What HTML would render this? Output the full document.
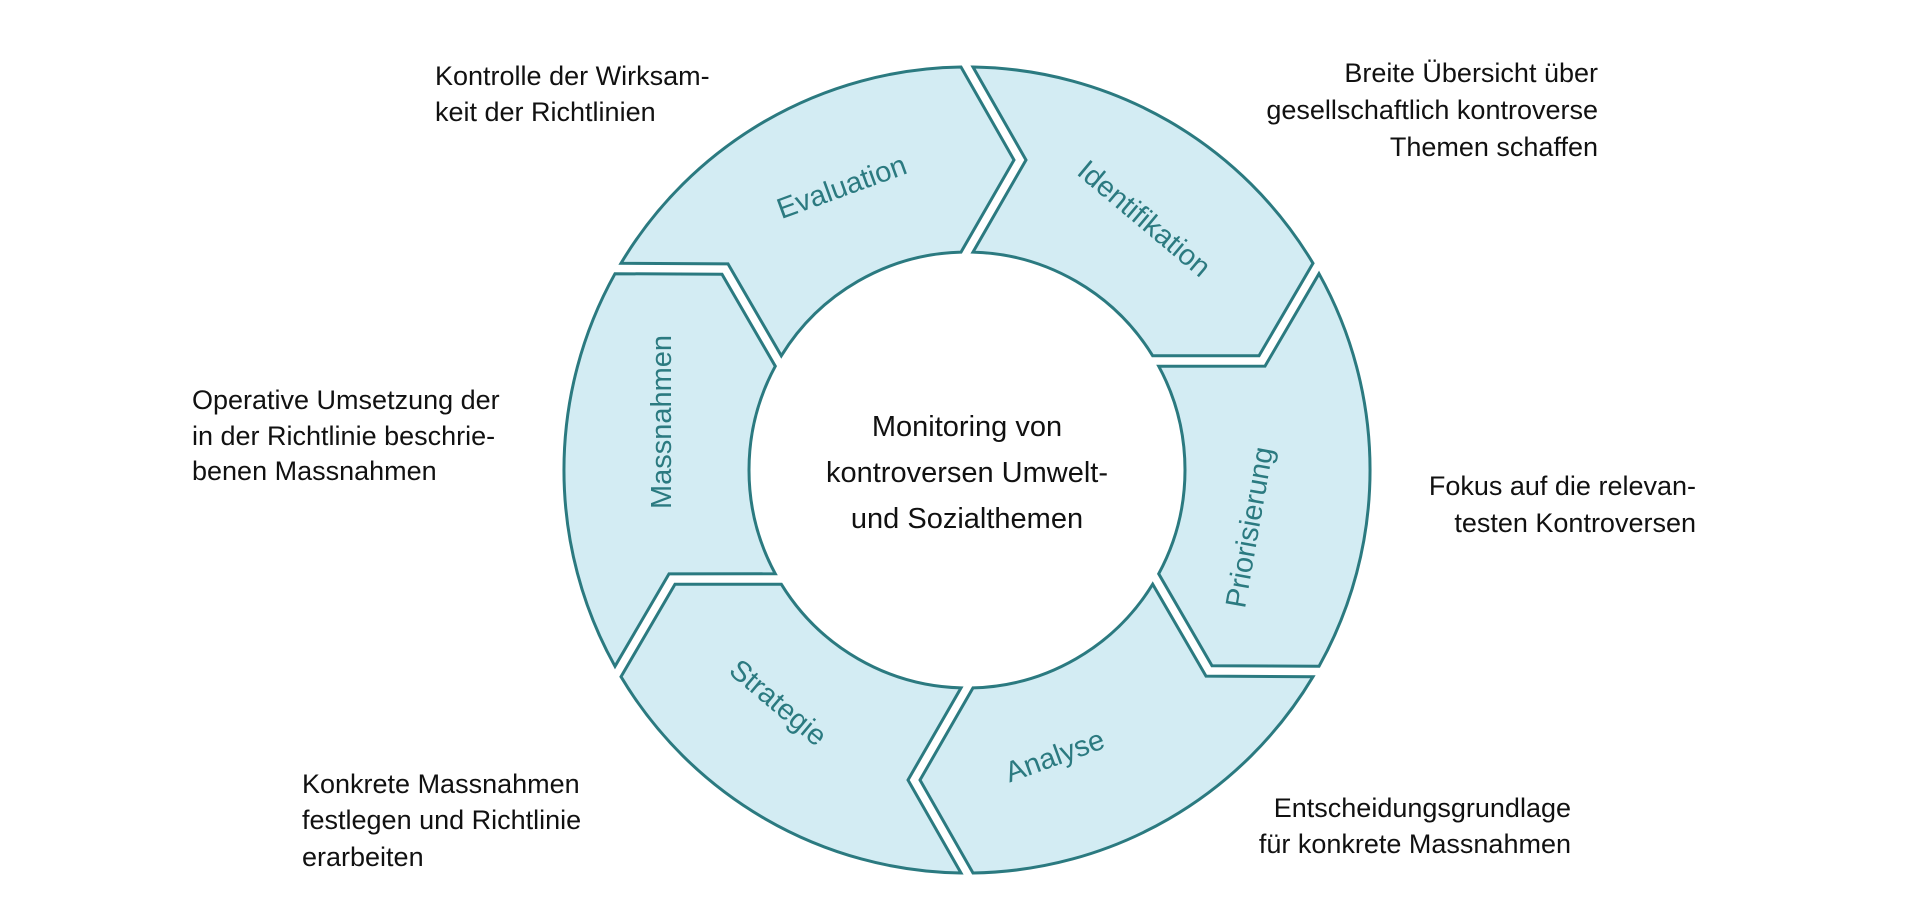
<!DOCTYPE html>
<html><head><meta charset="utf-8"><style>
html,body{margin:0;padding:0;background:#fff;}
svg{display:block;}
.t{font-family:"Liberation Sans",sans-serif;font-size:27px;fill:#111;}
.c{font-family:"Liberation Sans",sans-serif;font-size:29px;fill:#111;}
.l{font-family:"Liberation Sans",sans-serif;font-size:29px;fill:#2b7a80;}
</style></head><body>
<svg id="s" width="1920" height="905" viewBox="0 0 1920 905" xmlns="http://www.w3.org/2000/svg">
<g id="segs" fill="#d3ecf3" stroke="#2b7a80" stroke-width="3" stroke-linejoin="miter"></g>
<text class="l" text-anchor="middle" transform="translate(845,196) rotate(-20)">Evaluation</text>
<text class="l" text-anchor="middle" transform="translate(1138,226) rotate(40)">Identifikation</text>
<text class="l" text-anchor="middle" transform="translate(1259,529) rotate(-80)">Priorisierung</text>
<text class="l" text-anchor="middle" transform="translate(1058,765) rotate(-20)">Analyse</text>
<text class="l" text-anchor="middle" transform="translate(772,710) rotate(40)">Strategie</text>
<text class="l" text-anchor="middle" transform="translate(671,422) rotate(-90)">Massnahmen</text>
<g text-anchor="middle">
<text x="967" y="436" class="c">Monitoring von</text>
<text x="967" y="482" class="c">kontroversen Umwelt-</text>
<text x="967" y="528" class="c">und Sozialthemen</text>
</g>
<text class="t" x="435" y="85">Kontrolle der Wirksam-</text>
<text class="t" x="435" y="121">keit der Richtlinien</text>
<g text-anchor="end">
<text class="t" x="1598" y="82">Breite Übersicht über</text>
<text class="t" x="1598" y="119">gesellschaftlich kontroverse</text>
<text class="t" x="1598" y="156">Themen schaffen</text>
<text class="t" x="1696" y="495">Fokus auf die relevan-</text>
<text class="t" x="1696" y="532">testen Kontroversen</text>
<text class="t" x="1571" y="817">Entscheidungsgrundlage</text>
<text class="t" x="1571" y="853">für konkrete Massnahmen</text>
</g>
<text class="t" x="192" y="409">Operative Umsetzung der</text>
<text class="t" x="192" y="445">in der Richtlinie beschrie-</text>
<text class="t" x="192" y="480">benen Massnahmen</text>
<text class="t" x="302" y="793">Konkrete Massnahmen</text>
<text class="t" x="302" y="829">festlegen und Richtlinie</text>
<text class="t" x="302" y="866">erarbeiten</text>
</svg>
<script>
(function(){
var cx=967,cy=470,Ro=403,Ri=218,Rm=310,d=53,g=6;
function rad(a){return a*Math.PI/180;}
function pol(r,a){return [cx+r*Math.cos(rad(a)),cy-r*Math.sin(rad(a))];}
function off(r,a,s){var u=[Math.cos(rad(a)),-Math.sin(rad(a))],t=[Math.sin(rad(a)),Math.cos(rad(a))];return [cx+r*u[0]+s*t[0],cy+r*u[1]+s*t[1]];}
function deg(x){return x*180/Math.PI;}
function f(p){return p[0].toFixed(1)+","+p[1].toFixed(1);}
var html="";
for(var i=0;i<6;i++){
 var s=150-60*i,e=s-60;
 var oT=pol(Ro,s-deg(Math.asin(g/Ro))), iT=pol(Ri,s-deg(Math.asin(g/Ri))), nT=off(Rm,s,d+g);
 var oH=pol(Ro,e+deg(Math.asin(g/Ro))), iH=pol(Ri,e+deg(Math.asin(g/Ri))), tH=off(Rm,e,d-g);
 var p="M"+f(oT)+" A"+Ro+","+Ro+" 0 0 1 "+f(oH)+" L"+f(tH)+" L"+f(iH)+" A"+Ri+","+Ri+" 0 0 0 "+f(iT)+" L"+f(nT)+" Z";
 html+='<path d="'+p+'"/>';
}
document.getElementById("segs").innerHTML=html;
})();
</script>
</body></html>
